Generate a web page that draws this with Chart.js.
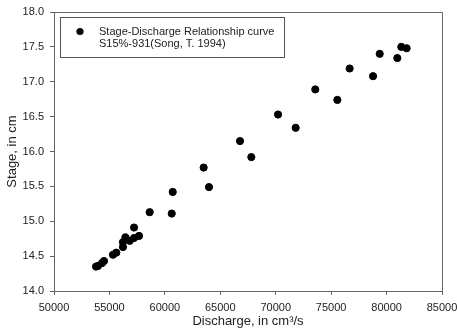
<!DOCTYPE html>
<html>
<head>
<meta charset="utf-8">
<script src="https://cdn.jsdelivr.net/npm/chart.js@4.4.1/dist/chart.umd.min.js"></script>
<style>
  html, body { margin: 0; padding: 0; background: #fff; }
  #wrap { width: 457px; height: 329px; }
</style>
</head>
<body>
<div id="wrap"><canvas id="myChart"></canvas></div>
<script>
// readings
const discharge = [53790, 53970, 54330, 54510, 55320, 55620, 56220, 56220, 56440, 56830,
  57220, 57670, 57220, 58630, 60620, 60710, 63500, 63980, 66780, 67800,
  70210, 71800, 73570, 75560, 76670, 78780, 79380, 80970, 81330, 81810];
const stage = [14.35, 14.36, 14.40, 14.43, 14.52, 14.55, 14.63, 14.70, 14.77, 14.72,
  14.76, 14.79, 14.91, 15.13, 15.11, 15.42, 15.77, 15.49, 16.15, 15.92,
  16.53, 16.34, 16.89, 16.74, 17.19, 17.08, 17.40, 17.34, 17.50, 17.48];
const legendLines = ['Stage-Discharge Relationship curve', 'S15%-931(Song, T. 1994)'];
const xTitle = 'Discharge, in cm\u00b3/s';
const yTitle = 'Stage, in cm';

const points = discharge.map((d, i) => ({ x: d, y: stage[i] }));
const textColor = '#222';
const fontFam = '"Liberation Sans", Arial, sans-serif';

// frame on top and right + the boxed legend
const extras = {
  id: 'extras',
  afterDraw(chart) {
    const c = chart.ctx;
    const a = chart.chartArea;
    c.save();
    c.strokeStyle = '#666';
    c.lineWidth = 1;
    c.beginPath();
    c.moveTo(Math.round(a.left) + 0.5, Math.round(a.top) + 0.5);
    c.lineTo(Math.round(a.right) + 0.5, Math.round(a.top) + 0.5);
    c.lineTo(Math.round(a.right) + 0.5, Math.round(a.bottom) + 0.5);
    c.stroke();

    // legend box
    c.strokeStyle = '#555';
    c.strokeRect(60.5, 17.5, 224, 40);
    c.fillStyle = '#000';
    c.beginPath();
    c.arc(80, 31.5, 3.6, 0, Math.PI * 2);
    c.fill();
    c.fillStyle = textColor;
    c.font = '11px ' + fontFam;
    c.textBaseline = 'middle';
    c.fillText(legendLines[0], 99, 32);
    c.fillText(legendLines[1], 99, 44);
    c.restore();
  }
};

const ctx = document.getElementById('myChart');
new Chart(ctx, {
  type: 'scatter',
  data: {
    datasets: [{
      label: legendLines.join(' '),
      data: points,
      backgroundColor: '#000',
      borderColor: '#000',
      pointRadius: 3.6,
      pointHoverRadius: 3.6
    }]
  },
  options: {
    responsive: true,
    maintainAspectRatio: false,
    animation: false,
    events: [],
    layout: { padding: { top: 12, right: 15, left: 0, bottom: 0 } },
    plugins: {
      legend: { display: false },
      tooltip: { enabled: false }
    },
    scales: {
      x: {
        type: 'linear',
        min: 50000,
        max: 85000,
        afterFit(s) { s.height = 38; s.paddingLeft = 0; s.paddingRight = 0; },
        ticks: {
          stepSize: 5000,
          maxRotation: 0,
          padding: 6,
          color: textColor,
          font: { family: fontFam, size: 11 },
          callback: v => String(v)
        },
        grid: { drawOnChartArea: false, tickLength: 4, color: '#666' },
        border: { color: '#666' },
        title: {
          display: true,
          text: xTitle,
          color: textColor,
          font: { family: fontFam, size: 13 },
          padding: { top: 0, bottom: 0 }
        }
      },
      y: {
        min: 14,
        max: 18,
        afterFit(s) { s.width = 54; s.paddingTop = 0; s.paddingBottom = 0; },
        ticks: {
          stepSize: 0.5,
          padding: 6,
          color: textColor,
          font: { family: fontFam, size: 11 },
          callback: v => Number(v).toFixed(1)
        },
        grid: { drawOnChartArea: false, tickLength: 4, color: '#666' },
        border: { color: '#666' },
        title: {
          display: true,
          text: yTitle,
          color: textColor,
          font: { family: fontFam, size: 13 },
          padding: { top: 5, bottom: 4 }
        }
      }
    }
  },
  plugins: [extras]
});
</script>
</body>
</html>
